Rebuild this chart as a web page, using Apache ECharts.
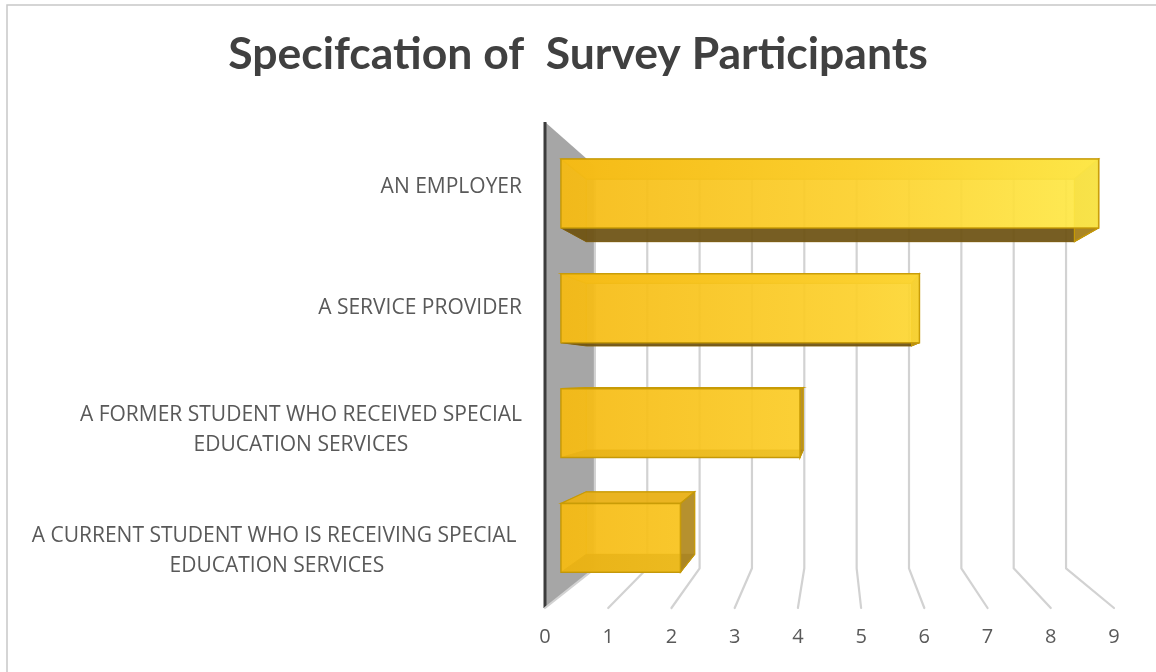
<!DOCTYPE html>
<html>
<head>
<meta charset="utf-8">
<script src="https://cdn.jsdelivr.net/npm/echarts@6/dist/echarts.min.js"></script>
<style>
html,body{margin:0;padding:0;background:#fff;}
#chart{width:1156px;height:672px;}
</style>
</head>
<body>
<div id="chart"></div>
<script>
// ---- data ----
var titleText = 'Specifcation of  Survey Participants';
var categories = [
  'AN EMPLOYER',
  'A SERVICE PROVIDER',
  'A FORMER STUDENT WHO RECEIVED SPECIAL\nEDUCATION SERVICES',
  'A CURRENT STUDENT WHO IS RECEIVING SPECIAL \nEDUCATION SERVICES'
];
var values = [9, 6, 4, 2];
var xTicks = [0, 1, 2, 3, 4, 5, 6, 7, 8, 9];

// ---- perspective settings (fractions of the plot area) ----
var VP_FX = 0.51, VP_FY = 0.525;   // vanishing point
var K_WALL = 0.828;                // back wall depth factor
var K_FRONT = 0.945, K_BACK = 0.858; // bar front / back depth factors
var BAR_HALF = 0.30;               // half bar height as share of band

function makeProj(cs) {
  var vx = cs.x + cs.width * VP_FX;
  var vy = cs.y + cs.height * VP_FY;
  return function (X, Y, k) {
    return [vx + (X - vx) * k, vy + (Y - vy) * k];
  };
}

var chart = echarts.init(document.getElementById('chart'), null, {renderer: 'canvas'});

function gridItem(params, api) {
  var cs = params.coordSys;
  var proj = makeProj(cs);
  var v = api.value(0);
  var X = api.coord([v, 0])[0];
  var top = cs.y, bottom = cs.y + cs.height;
  var children = [];
  if (v === 0) {
    var a = [X, top], b = [X, bottom], c = proj(X, bottom, K_WALL), d = proj(X, top, K_WALL);
    children.push({
      type: 'polygon',
      shape: {points: [a, b, c, d]},
      style: {fill: '#a6a6a6'}
    });
    children.push({
      type: 'line',
      shape: {x1: X, y1: top, x2: X, y2: bottom},
      style: {stroke: '#3c3c3c', lineWidth: 3}
    });
  }
  var p1 = proj(X, top, K_WALL), p2 = proj(X, bottom, K_WALL), p3 = [X, bottom];
  children.push({
    type: 'polyline',
    shape: {points: [p1, p2, p3]},
    style: {stroke: '#d2d2d2', lineWidth: 2.2, fill: null, lineJoin: 'round', lineCap: 'round'}
  });
  return {type: 'group', children: children};
}

function barItem(params, api) {
  var cs = params.coordSys;
  var proj = makeProj(cs);
  var v = api.value(0), i = api.value(1);
  var p0 = api.coord([0, i]), p1 = api.coord([v, i]);
  var band = api.size([0, 1])[1];
  var h = band * BAR_HALF;
  var X0 = p0[0], X1 = p1[0], T = p0[1] - h, B = p0[1] + h;
  var fTL = proj(X0, T, K_FRONT), fTR = proj(X1, T, K_FRONT), fBR = proj(X1, B, K_FRONT), fBL = proj(X0, B, K_FRONT);
  var bTL = proj(X0, T, K_BACK), bTR = proj(X1, T, K_BACK), bBR = proj(X1, B, K_BACK), bBL = proj(X0, B, K_BACK);
  var gx0 = proj(cs.x, 0, K_FRONT)[0], gx1 = proj(cs.x + cs.width, 0, K_FRONT)[0];
  var frontFill = {
    type: 'linear', global: true, x: gx0, y: 0, x2: gx1, y2: 0,
    colorStops: [{offset: 0, color: '#f6bb14'}, {offset: 0.55, color: '#fdd22e'}, {offset: 1, color: '#ffec4c'}]
  };
  var edge = '#c79a05';
  var children = [];
  children.push({type: 'polygon', shape: {points: [bTL, bTR, bBR, bBL]},
    style: {fill: 'rgba(230,170,10,0.35)', stroke: 'rgba(200,150,0,0.5)', lineWidth: 1}});
  children.push({type: 'polygon', shape: {points: [fTL, bTL, bBL, fBL]},
    style: {fill: 'rgba(225,165,10,0.5)', stroke: 'rgba(200,150,0,0.45)', lineWidth: 1}});
  children.push({type: 'polygon', shape: {points: [fTL, fTR, bTR, bTL]},
    style: {fill: 'rgba(232,176,22,0.92)', stroke: edge, lineWidth: 1.2}});
  children.push({type: 'polygon', shape: {points: [fBL, fBR, bBR, bBL]},
    style: {fill: 'rgba(105,80,20,0.9)', stroke: 'rgba(120,90,20,0.9)', lineWidth: 1}});
  children.push({type: 'polygon', shape: {points: [fTR, bTR, bBR, fBR]},
    style: {fill: 'rgba(176,138,36,0.92)', stroke: edge, lineWidth: 1.2}});
  children.push({type: 'polygon', shape: {points: [fTL, fTR, fBR, fBL]},
    style: {fill: frontFill, opacity: 0.9, stroke: edge, lineWidth: 1.5}});
  return {type: 'group', children: children};
}

var option = {
  backgroundColor: '#ffffff',
  animation: false,
  title: {
    text: titleText,
    left: 'center',
    top: 27,
    textStyle: {fontFamily: 'Lato', fontWeight: 'bold', fontSize: 44.5, color: '#404040'}
  },
  graphic: [{
    type: 'rect', silent: true, z: -1,
    shape: {x: 7, y: 5, width: 1160, height: 680},
    style: {fill: null, stroke: '#c8c8c8', lineWidth: 1.5}
  }],
  grid: {left: 545, right: 42, top: 122, bottom: 64, containLabel: false},
  xAxis: {
    type: 'value', min: 0, max: 9, interval: 1,
    axisLine: {show: false}, axisTick: {show: false}, splitLine: {show: false},
    axisLabel: {
      margin: 19, color: '#595959', fontSize: 20, fontFamily: 'Open Sans',
      formatter: function (val) { return xTicks.indexOf(val) >= 0 ? String(val) : ''; }
    }
  },
  yAxis: {
    type: 'category', data: categories, inverse: true,
    axisLine: {show: false}, axisTick: {show: false}, splitLine: {show: false},
    axisLabel: {
      margin: 23, align: 'right', padding: [8, 0, 0, 0],
      formatter: function (s) {
        return s.split('\n').map(function (l) { return '{c|' + l + '}'; }).join('\n');
      },
      rich: {c: {align: 'center', fontSize: 21, lineHeight: 30, color: '#595959', fontFamily: 'Open Sans'}}
    }
  },
  series: [
    {
      type: 'custom', name: 'grid', silent: true, z: 1,
      renderItem: gridItem,
      data: xTicks.map(function (t) { return [t]; }),
      encode: {x: 0}
    },
    {
      type: 'custom', name: 'participants', z: 3,
      renderItem: barItem,
      data: values.map(function (v, i) { return [v, i]; }),
      encode: {x: 0, y: 1}
    }
  ]
};
chart.setOption(option);
</script>
</body>
</html>
